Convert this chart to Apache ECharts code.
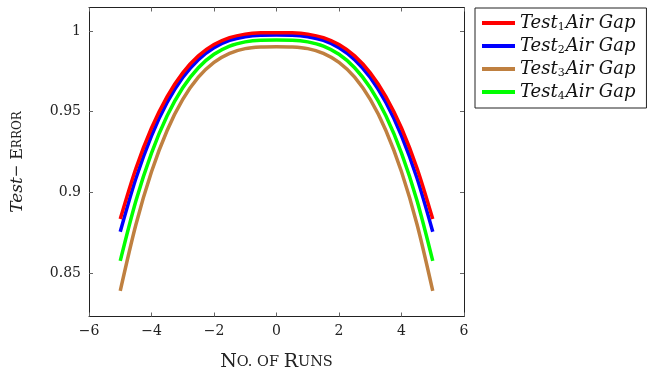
<!DOCTYPE html>
<html>
<head>
<meta charset="utf-8">
<script src="https://cdn.jsdelivr.net/npm/echarts@6/dist/echarts.min.js"></script>
<style>html,body{margin:0;padding:0;background:#fff;}#c{width:652px;height:370px;}</style>
</head>
<body>
<div id="c"></div>
<script>
const xs = [-5, -4.5, -4, -3.5, -3, -2.5, -2, -1.5, -1, -0.5, 0, 0.5, 1, 1.5, 2, 2.5, 3, 3.5, 4, 4.5, 5];
const test1 = [0.8835, 0.9148, 0.9399, 0.9594, 0.9741, 0.9846, 0.9916, 0.9959, 0.9981, 0.9989, 0.9990, 0.9989, 0.9981, 0.9959, 0.9916, 0.9846, 0.9741, 0.9594, 0.9399, 0.9148, 0.8835];
const test2 = [0.8756, 0.9086, 0.9351, 0.9557, 0.9712, 0.9823, 0.9897, 0.9942, 0.9965, 0.9974, 0.9975, 0.9974, 0.9965, 0.9942, 0.9897, 0.9823, 0.9712, 0.9557, 0.9351, 0.9086, 0.8756];
const test3 = [0.8390, 0.8800, 0.9128, 0.9384, 0.9576, 0.9714, 0.9806, 0.9862, 0.9891, 0.9901, 0.9903, 0.9901, 0.9891, 0.9862, 0.9806, 0.9714, 0.9576, 0.9384, 0.9128, 0.8800, 0.8390];
const test4 = [0.8576, 0.8947, 0.9244, 0.9475, 0.9649, 0.9773, 0.9856, 0.9907, 0.9933, 0.9943, 0.9944, 0.9943, 0.9933, 0.9907, 0.9856, 0.9773, 0.9649, 0.9475, 0.9244, 0.8947, 0.8576];
const yTicks = [0.85, 0.9, 0.95, 1];
const seriesNames = ['Test1', 'Test2', 'Test3', 'Test4'];
const seriesColors = ['#ff0000', '#0000ff', '#bf8040', '#00ff00'];
const seriesData = [test1, test2, test3, test4];

const serif = '"DejaVu Serif", "Liberation Serif", serif';
const chart = echarts.init(document.getElementById('c'), null, {renderer: 'canvas'});
const minus = v => String(v).replace('-', '\u2212');

const axisCommon = {
  axisLine: {show: true, onZero: false, lineStyle: {color: '#222', width: 1}},
  axisTick: {show: true, inside: true, length: 4, lineStyle: {color: '#666', width: 1}},
  splitLine: {show: false}
};

chart.setOption({
  animation: false,
  backgroundColor: '#fff',
  grid: {left: 89, right: 188, top: 7.5, bottom: 53.5, containLabel: false, outerBoundsMode: 'none'},
  legend: {
    orient: 'vertical',
    left: 475, top: 8,
    padding: [6, 11, 6, 7],
    itemGap: 4,
    itemWidth: 33, itemHeight: 4,
    icon: 'rect',
    borderColor: '#222', borderWidth: 1,
    data: seriesNames,
    formatter: n => '{i|Test}{s|' + n.slice(4) + '}{i|Air Gap}',
    textStyle: {
      rich: {
        i: {fontFamily: serif, fontStyle: 'italic', fontSize: 18, color: '#111', lineHeight: 20},
        s: {fontFamily: serif, fontSize: 11, color: '#111', verticalAlign: 'bottom', padding: [8, 1, 0, 0], lineHeight: 20}
      }
    }
  },
  xAxis: [
    Object.assign({}, axisCommon, {
      type: 'value', position: 'bottom', min: -6, max: 6, interval: 2,
      axisLabel: {formatter: minus, fontFamily: serif, fontSize: 14, color: '#222', margin: 8},
      name: '{b|N}{s|O. OF }{b|R}{s|UNS}',
      nameLocation: 'middle', nameGap: 36,
      nameTextStyle: {rich: {
        b: {fontFamily: serif, fontSize: 19, color: '#222'},
        s: {fontFamily: serif, fontSize: 14.5, color: '#222'}
      }}
    }),
    Object.assign({}, axisCommon, {
      type: 'value', position: 'top', min: -6, max: 6, interval: 2,
      axisLabel: {show: false}
    })
  ],
  yAxis: [
    Object.assign({}, axisCommon, {
      type: 'value', position: 'left', min: 0.8231, max: 1.0146,
      axisTick: Object.assign({}, axisCommon.axisTick, {customValues: yTicks}),
      axisLabel: {customValues: yTicks, formatter: v => String(+v.toFixed(2)), fontFamily: serif, fontSize: 14, color: '#222', margin: 8},
      name: '{i|Test}{n|\u2212 }{b|E}{s|RROR}',
      nameLocation: 'middle', nameGap: 63,
      nameTextStyle: {rich: {
        i: {fontFamily: serif, fontStyle: 'italic', fontSize: 17, color: '#222'},
        n: {fontFamily: serif, fontSize: 15, color: '#222'},
        b: {fontFamily: serif, fontSize: 16, color: '#222'},
        s: {fontFamily: serif, fontSize: 12, color: '#222'}
      }}
    }),
    Object.assign({}, axisCommon, {
      type: 'value', position: 'right', min: 0.8231, max: 1.0146,
      axisTick: Object.assign({}, axisCommon.axisTick, {customValues: yTicks}),
      axisLabel: {show: false}
    })
  ],
  series: seriesNames.map((name, k) => ({
    name: name,
    type: 'line',
    xAxisIndex: 0, yAxisIndex: 0,
    data: xs.map((x, i) => [x, seriesData[k][i]]),
    showSymbol: false,
    smooth: 0.3,
    color: seriesColors[k],
    lineStyle: {width: 3.5, color: seriesColors[k]},
    z: 10 - k
  }))
});
</script>
</body>
</html>
